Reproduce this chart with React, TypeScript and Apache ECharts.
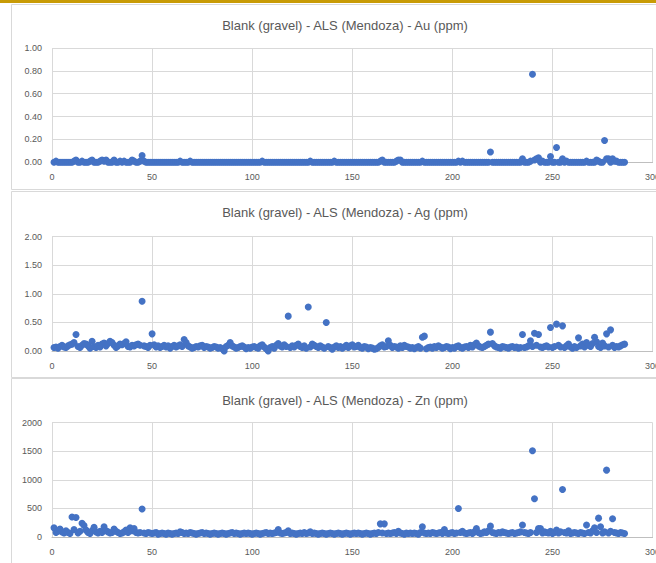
import React, { useEffect, useRef } from "react";
import * as echarts from "echarts";

const titles = [
  "Blank (gravel) - ALS (Mendoza) - Au (ppm)",
  "Blank (gravel) - ALS (Mendoza) - Ag (ppm)",
  "Blank (gravel) - ALS (Mendoza) - Zn (ppm)",
];

const xTicks = [0, 50, 100, 150, 200, 250, 300];

const auValues = [
  0.00,0.01,0.00,0.00,0.00,0.00,0.00,0.00,0.00,0.00,0.01,0.02,0.00,0.00,0.01,0.00,0.00,0.00,0.01,0.02,
  0.00,0.00,0.00,0.01,0.02,0.01,0.02,0.00,0.00,0.00,0.02,0.00,0.00,0.01,0.00,0.01,0.00,0.00,0.00,0.02,
  0.01,0.00,0.00,0.01,0.06,0.01,0.00,0.00,0.00,0.00,0.00,0.00,0.00,0.00,0.00,0.00,0.00,0.00,0.00,0.00,
  0.00,0.00,0.00,0.01,0.00,0.00,0.00,0.00,0.01,0.00,0.00,0.00,0.00,0.00,0.00,0.00,0.00,0.00,0.00,0.00,
  0.00,0.00,0.00,0.00,0.00,0.00,0.00,0.00,0.00,0.00,0.00,0.00,0.00,0.00,0.00,0.00,0.00,0.00,0.00,0.00,
  0.00,0.00,0.00,0.00,0.01,0.00,0.00,0.00,0.00,0.00,0.00,0.00,0.00,0.00,0.00,0.00,0.00,0.00,0.00,0.00,
  0.00,0.00,0.00,0.00,0.00,0.00,0.00,0.00,0.01,0.00,0.00,0.00,0.00,0.00,0.00,0.00,0.00,0.00,0.00,0.00,
  0.01,0.00,0.00,0.00,0.00,0.00,0.00,0.00,0.00,0.00,0.00,0.00,0.00,0.00,0.00,0.00,0.00,0.00,0.00,0.00,
  0.00,0.00,0.00,0.01,0.02,0.00,0.00,0.00,0.00,0.00,0.00,0.01,0.02,0.02,0.00,0.00,0.00,0.00,0.00,0.00,
  0.00,0.00,0.00,0.00,0.01,0.00,0.00,0.00,0.00,0.00,0.00,0.00,0.00,0.00,0.00,0.00,0.00,0.00,0.00,0.00,
  0.00,0.00,0.01,0.00,0.01,0.00,0.00,0.00,0.00,0.00,0.00,0.00,0.00,0.00,0.00,0.00,0.00,0.00,0.09,0.00,
  0.00,0.00,0.00,0.00,0.00,0.00,0.00,0.00,0.00,0.00,0.00,0.00,0.00,0.00,0.03,0.00,0.00,0.00,0.01,0.77,
  0.02,0.03,0.04,0.00,0.01,0.00,0.00,0.00,0.05,0.00,0.00,0.13,0.00,0.00,0.03,0.00,0.01,0.00,0.00,0.00,
  0.00,0.00,0.00,0.00,0.00,0.00,0.01,0.00,0.00,0.00,0.00,0.02,0.01,0.00,0.00,0.19,0.03,0.03,0.00,0.03,
  0.01,0.01,0.00,0.00,0.00,0.00,
];

const agValues = [
  0.06,0.07,0.05,0.08,0.10,0.07,0.06,0.09,0.11,0.12,0.15,0.29,0.08,0.06,0.10,0.13,0.12,0.09,0.05,0.17,
  0.08,0.06,0.10,0.07,0.12,0.14,0.09,0.13,0.17,0.15,0.10,0.06,0.09,0.12,0.11,0.13,0.16,0.08,0.07,0.10,
  0.09,0.11,0.12,0.10,0.87,0.09,0.08,0.06,0.10,0.30,0.11,0.07,0.09,0.06,0.08,0.10,0.07,0.09,0.05,0.08,
  0.10,0.07,0.09,0.11,0.08,0.20,0.15,0.09,0.07,0.05,0.06,0.08,0.07,0.09,0.10,0.06,0.08,0.07,0.05,0.06,
  0.08,0.07,0.05,0.06,0.04,0.00,0.08,0.10,0.15,0.09,0.07,0.05,0.06,0.08,0.09,0.07,0.04,0.06,0.05,0.07,
  0.08,0.06,0.05,0.09,0.11,0.07,0.04,0.00,0.06,0.08,0.05,0.10,0.13,0.09,0.07,0.11,0.08,0.61,0.06,0.09,
  0.07,0.10,0.12,0.08,0.06,0.09,0.05,0.77,0.07,0.12,0.10,0.08,0.06,0.09,0.07,0.05,0.50,0.08,0.06,0.03,
  0.07,0.09,0.06,0.08,0.05,0.07,0.10,0.06,0.09,0.11,0.07,0.08,0.10,0.06,0.05,0.08,0.07,0.04,0.06,0.05,
  0.03,0.04,0.06,0.09,0.11,0.07,0.08,0.18,0.10,0.06,0.08,0.07,0.05,0.09,0.06,0.10,0.08,0.07,0.05,0.06,
  0.04,0.06,0.08,0.05,0.24,0.26,0.04,0.06,0.07,0.05,0.08,0.06,0.09,0.07,0.05,0.06,0.08,0.07,0.04,0.06,
  0.05,0.08,0.09,0.06,0.05,0.07,0.08,0.06,0.10,0.07,0.11,0.14,0.09,0.07,0.06,0.08,0.10,0.12,0.33,0.13,
  0.09,0.07,0.06,0.05,0.08,0.07,0.06,0.05,0.07,0.08,0.06,0.07,0.05,0.06,0.29,0.06,0.07,0.09,0.18,0.08,
  0.31,0.10,0.29,0.07,0.06,0.08,0.09,0.07,0.41,0.06,0.08,0.47,0.10,0.07,0.44,0.06,0.09,0.12,0.07,0.05,
  0.08,0.06,0.23,0.09,0.12,0.07,0.15,0.10,0.08,0.13,0.24,0.16,0.08,0.06,0.14,0.09,0.30,0.07,0.37,0.10,
  0.06,0.08,0.07,0.09,0.11,0.12,
];

const znValues = [
  160,80,100,140,90,70,110,80,60,350,130,340,70,100,240,200,120,80,60,110,
  170,90,70,100,80,180,110,90,70,80,140,100,80,60,70,90,120,80,160,110,
  150,80,70,80,490,70,60,80,70,60,70,80,50,60,70,60,50,70,60,50,
  60,70,60,90,80,60,70,60,80,70,60,50,60,70,80,60,70,60,50,60,
  70,60,50,60,70,60,50,60,70,80,60,70,60,50,60,70,60,70,60,50,
  60,70,60,50,60,70,80,60,70,60,70,80,130,70,60,70,80,110,60,70,
  60,50,60,70,60,80,60,70,90,60,70,60,50,60,70,60,50,60,70,60,
  50,60,70,60,50,60,70,60,50,60,70,60,70,60,50,60,70,60,50,60,
  70,60,80,230,70,230,60,70,60,70,80,60,100,70,60,50,70,60,70,60,
  70,60,50,80,180,70,60,70,60,80,70,60,70,80,60,130,70,60,70,80,
  60,70,500,80,100,70,60,70,80,60,90,150,80,60,70,90,80,110,190,80,
  70,60,80,70,90,80,70,60,70,80,60,70,80,90,210,80,70,60,80,1510,
  670,80,150,150,70,90,80,70,100,60,80,120,70,90,830,80,70,110,60,70,
  80,70,60,80,70,60,210,80,70,110,160,80,330,180,70,90,1170,70,100,320,
  80,70,60,80,70,60,
];

const yMax = [1, 2, 2000];
const yInterval = [0.2, 0.5, 500];
const yDecimals = [2, 2, 0];

const seriesValues = [auValues, agValues, znValues];

const gridTops = [48, 236.7, 422.7];
const gridHeight = 114.3;
const titleY = [25, 212.7, 400];
const panelRects = [
  { y: 4.5, h: 185 },
  { y: 191.5, h: 186 },
  { y: 378.5, h: 200 },
];

export default function App() {
  const ref = useRef<HTMLDivElement>(null);
  useEffect(() => {
    if (!ref.current) return;
    const chart = echarts.init(ref.current, null, { renderer: "svg" });
    const textColor = "#595959";
    const font = "Liberation Sans";
    const grids = gridTops.map((t) => ({
      left: 52,
      top: t,
      width: 600.6,
      height: gridHeight,
      containLabel: false,
      outerBoundsMode: "none",
    }));
    const xAxes = gridTops.map((_, i) => ({
      type: "value",
      gridIndex: i,
      min: xTicks[0],
      max: xTicks[xTicks.length - 1],
      interval: 50,
      axisLine: { show: true, lineStyle: { color: "#bfbfbf", width: 1 } },
      axisTick: { show: false },
      axisLabel: {
        color: textColor,
        fontSize: 9,
        fontFamily: font,
        margin: 10,
        showMaxLabel: true,
      },
      splitLine: { show: true, lineStyle: { color: "#d9d9d9", width: 1 } },
    }));
    const yAxes = gridTops.map((_, i) => ({
      type: "value",
      gridIndex: i,
      min: 0,
      max: yMax[i],
      interval: yInterval[i],
      axisLine: { show: false },
      axisTick: { show: false },
      axisLabel: {
        color: textColor,
        fontSize: 9,
        fontFamily: font,
        margin: 10,
        formatter: (v: number) => v.toFixed(yDecimals[i]),
      },
      splitLine: { show: true, lineStyle: { color: "#d9d9d9", width: 1 } },
    }));
    const series = seriesValues.map((vals, i) => ({
      type: "scatter",
      xAxisIndex: i,
      yAxisIndex: i,
      symbol: "circle",
      symbolSize: 7,
      itemStyle: { color: "#4472C4", opacity: 1 },
      data: vals.map((v, k) => [k + 1, v]),
      silent: true,
    }));
    const graphics: any[] = [
      {
        type: "rect",
        shape: { x: 0, y: 0, width: 656, height: 3 },
        style: { fill: "#C89B06" },
        z: 0,
      },
      ...panelRects.map((p) => ({
        type: "rect",
        shape: { x: 11.5, y: p.y, width: 700, height: p.h },
        style: { fill: "none", stroke: "#d9d9d9", lineWidth: 1 },
        z: -1,
      })),
      ...titles.map((t, i) => ({
        type: "text",
        x: 345,
        y: titleY[i],
        style: {
          text: t,
          fill: textColor,
          fontSize: 13,
          fontFamily: font,
          align: "center",
          verticalAlign: "middle",
        },
      })),
    ];
    chart.setOption({
      animation: false,
      backgroundColor: "#ffffff",
      grid: grids,
      xAxis: xAxes,
      yAxis: yAxes,
      series,
      graphic: graphics,
    });
    return () => chart.dispose();
  }, []);
  return (
    <div
      ref={ref}
      style={{ position: "fixed", left: 0, top: 0, width: 656, height: 563 }}
    />
  );
}
